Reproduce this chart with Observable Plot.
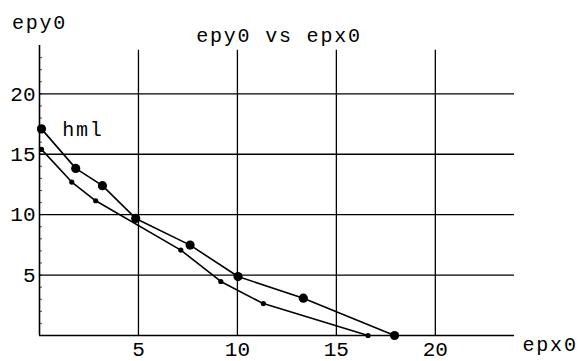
<!DOCTYPE html>
<html>
<head>
<meta charset="utf-8">
<script src="https://cdn.jsdelivr.net/npm/d3@7"></script>
<script src="https://cdn.jsdelivr.net/npm/@observablehq/plot@0.6"></script>
<style>
  html, body { margin: 0; padding: 0; background: #fff; }
  svg { display: block; }
</style>
</head>
<body>
<div id="chart"></div>
<script>
// Series "hml" (large dots)
const bigX = [0.1, 1.83, 3.18, 4.86, 7.61, 10.03, 13.33, 17.94];
const bigY = [17.1, 13.83, 12.4, 9.69, 7.48, 4.88, 3.09, 0];
// Second series (small dots)
const smallX = [0.1, 1.63, 2.84, 7.14, 9.16, 11.31, 16.6];
const smallY = [15.4, 12.7, 11.15, 7.07, 4.47, 2.64, 0];

const xTicks = [5, 10, 15, 20];
const yTicks = [5, 10, 15, 20];
const minorTicks = d3.range(1, 24);
const xDomain = [0, 24];
const yDomain = [0, 24];

const title = "epy0 vs epx0";
const xLabel = "epx0";
const yLabel = "epy0";
const seriesLabel = {text: "hml", x: 1.15, y: 16.45};

const big = bigX.map((x, i) => ({x, y: bigY[i]}));
const small = smallX.map((x, i) => ({x, y: smallY[i]}));

const font = "'Liberation Mono', 'Courier New', monospace";

const chart = Plot.plot({
  width: 581,
  height: 361,
  marginLeft: 39,
  marginRight: 67,
  marginTop: 45,
  marginBottom: 26,
  x: {type: "linear", domain: xDomain, axis: null},
  y: {type: "linear", domain: yDomain, axis: null},
  style: {fontFamily: font, background: "#fff", color: "#000"},
  marks: [
    // grid
    Plot.ruleX(xTicks, {y1: yDomain[0], y2: 23.6, stroke: "#000", strokeWidth: 1.3}),
    Plot.ruleY(yTicks, {x1: xDomain[0], x2: xDomain[1], stroke: "#000", strokeWidth: 1.3}),
    // axes
    Plot.ruleX([xDomain[0]], {y1: yDomain[0], y2: yDomain[1], stroke: "#000", strokeWidth: 1.6}),
    Plot.ruleY([yDomain[0]], {x1: xDomain[0], x2: xDomain[1], stroke: "#000", strokeWidth: 1.6}),
    // minor ticks on the y axis
    Plot.ruleY(minorTicks, {x1: xDomain[0], x2: 0.15, stroke: "#000", strokeWidth: 0.7}),
    // tick labels
    Plot.text(yTicks, {x: xDomain[0], y: d => d, text: d => String(d), textAnchor: "end", dx: -4, fontSize: 21, fill: "#000"}),
    Plot.text(xTicks, {x: d => d, y: yDomain[0], text: d => String(d), dy: 14, fontSize: 21, fill: "#000"}),
    // axis labels & title
    Plot.text([xLabel], {x: xDomain[1], y: yDomain[0], text: d => d, textAnchor: "start", dx: 8, dy: 9, fontSize: 20, fill: "#000", className: "spaced"}),
    Plot.text([yLabel], {x: xDomain[0], y: yDomain[1], text: d => d, dy: -23, fontSize: 20, fill: "#000", className: "spaced"}),
    Plot.text([title], {x: 12.1, y: yDomain[1], text: d => d, dy: -10, fontSize: 20, fill: "#000", className: "spaced"}),
    // lines
    Plot.line(small, {x: "x", y: "y", stroke: "#000", strokeWidth: 1.6}),
    Plot.line(big, {x: "x", y: "y", stroke: "#000", strokeWidth: 1.6}),
    Plot.dot(small, {x: "x", y: "y", r: 2.6, fill: "#000"}),
    Plot.dot(big, {x: "x", y: "y", r: 4.6, fill: "#000"}),
    Plot.text([seriesLabel], {x: "x", y: "y", text: "text", textAnchor: "start", dy: -7, fontSize: 20, fill: "#000", className: "spaced"})
  ]
});

d3.select(chart).selectAll(".spaced text").attr("letter-spacing", "1.8px");
document.getElementById("chart").appendChild(chart);
</script>
</body>
</html>
